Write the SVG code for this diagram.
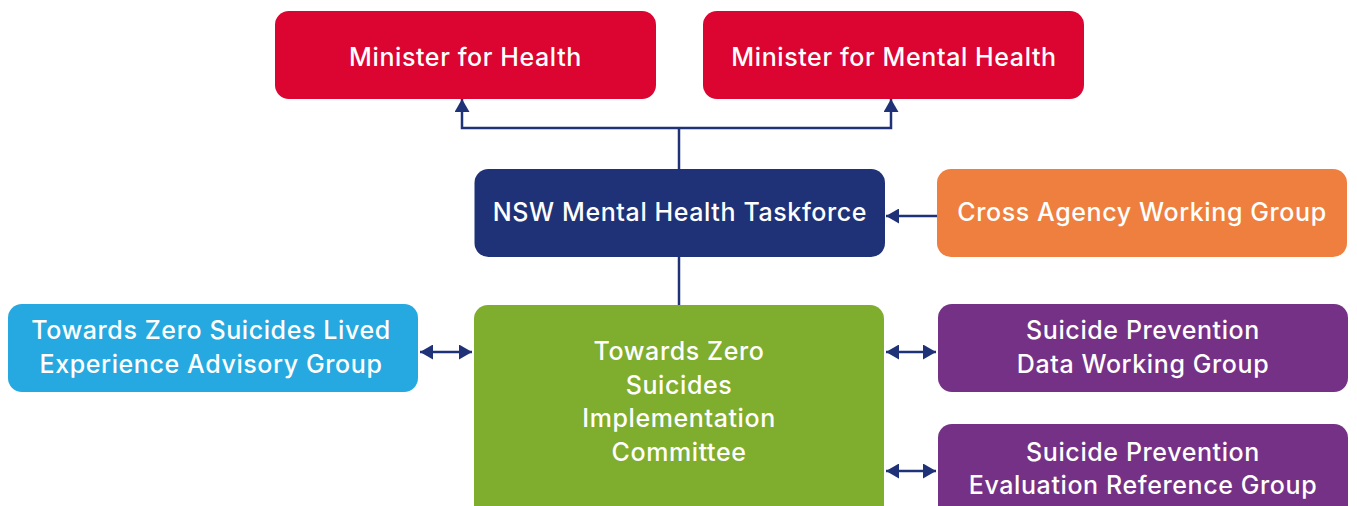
<svg xmlns="http://www.w3.org/2000/svg" width="1357" height="506" viewBox="0 0 1357 506">
  <style>
    .box text { font-family: Inter, "Open Sans", "Liberation Sans", sans-serif; font-size: 25px; font-weight: 500; letter-spacing: 0.6px; fill: #ffffff; text-anchor: middle; }
    .red { fill: #DC0431; }
    .navy { fill: #1F3278; }
    .orange { fill: #EF7F3E; }
    .sky { fill: #25A9E0; }
    .green { fill: #7FAD2D; }
    .purple { fill: #753186; }
    .link { fill: none; stroke: #1F3278; stroke-width: 2.5; }
  </style>
  <defs>
    <marker id="head" viewBox="0 0 13 15" refX="13" refY="7.5" markerWidth="13" markerHeight="15" markerUnits="userSpaceOnUse" orient="auto-start-reverse">
      <path d="M0,0 L13,7.5 L0,15 Z" fill="#1F3278"/>
    </marker>
  </defs>

  <!-- connectors -->
  <g id="connectors">
    <path class="link" d="M679,169 V128"/>
    <path class="link" d="M462,99 V128 H891 V99" marker-start="url(#head)" marker-end="url(#head)"/>
    <path class="link" d="M679,257 V305"/>
    <path class="link" d="M937,216 H886" marker-end="url(#head)"/>
    <path class="link" d="M420,352 H472" marker-start="url(#head)" marker-end="url(#head)"/>
    <path class="link" d="M886,352 H936" marker-start="url(#head)" marker-end="url(#head)"/>
    <path class="link" d="M886,471 H936" marker-start="url(#head)" marker-end="url(#head)"/>
  </g>

  <g id="minister-health" class="box">
    <rect class="red" x="275" y="11" width="381" height="88" rx="14"/>
    <text x="465.5" y="66">Minister for Health</text>
  </g>

  <g id="minister-mental-health" class="box">
    <rect class="red" x="703" y="11" width="381" height="88" rx="14"/>
    <text x="894" y="66">Minister for Mental Health</text>
  </g>

  <g id="taskforce" class="box">
    <rect class="navy" x="474.5" y="169" width="410.5" height="88" rx="14"/>
    <text x="680" y="221">NSW Mental Health Taskforce</text>
  </g>

  <g id="cross-agency" class="box">
    <rect class="orange" x="937" y="169" width="410" height="88" rx="14"/>
    <text x="1142" y="221">Cross Agency Working Group</text>
  </g>

  <g id="lived-experience" class="box">
    <rect class="sky" x="8" y="304" width="410" height="88" rx="14"/>
    <text x="211" y="339">Towards Zero Suicides Lived</text>
    <text x="211" y="373">Experience Advisory Group</text>
  </g>

  <g id="implementation-committee" class="box">
    <rect class="green" x="474" y="305" width="410" height="220" rx="14"/>
    <text x="679" y="360">Towards Zero</text>
    <text x="679" y="393.5">Suicides</text>
    <text x="679" y="427">Implementation</text>
    <text x="679" y="461">Committee</text>
  </g>

  <g id="data-working-group" class="box">
    <rect class="purple" x="938" y="304" width="410" height="88" rx="14"/>
    <text x="1143" y="339">Suicide Prevention</text>
    <text x="1143" y="373">Data Working Group</text>
  </g>

  <g id="evaluation-reference-group" class="box">
    <rect class="purple" x="938" y="424" width="410" height="110" rx="14"/>
    <text x="1143" y="461">Suicide Prevention</text>
    <text x="1143" y="494">Evaluation Reference Group</text>
  </g>
</svg>
